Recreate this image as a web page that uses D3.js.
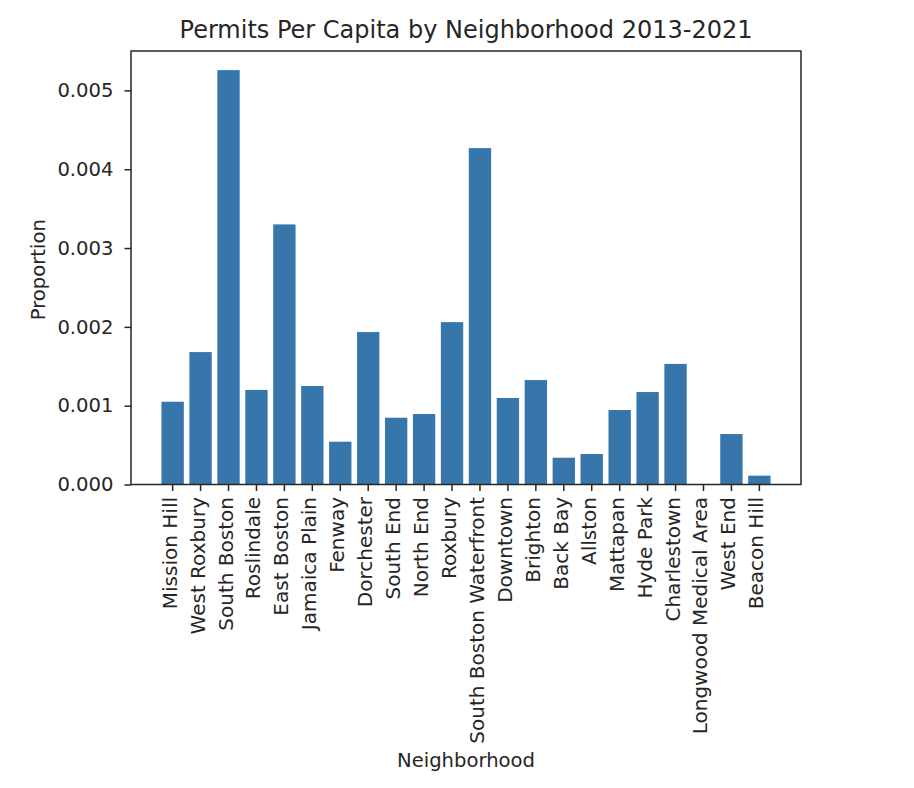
<!DOCTYPE html>
<html>
<head>
<meta charset="utf-8">
<script src="https://cdn.jsdelivr.net/npm/d3@7"></script>
<style>
  html, body { margin: 0; padding: 0; background: #fff; }
  svg { display: block; }
  text { font-family: "DejaVu Sans", sans-serif; fill: #262626; }
</style>
</head>
<body>
<svg id="chart" width="914" height="788"></svg>
<script>
const neighborhoods = ["Mission Hill", "West Roxbury", "South Boston", "Roslindale", "East Boston",
  "Jamaica Plain", "Fenway", "Dorchester", "South End", "North End", "Roxbury",
  "South Boston Waterfront", "Downtown", "Brighton", "Back Bay", "Allston", "Mattapan",
  "Hyde Park", "Charlestown", "Longwood Medical Area", "West End", "Beacon Hill"];
const proportions = [0.00105, 0.00168, 0.005257, 0.00120, 0.00330,
  0.00125, 0.000543, 0.001934, 0.000847, 0.000894, 0.00206,
  0.004268, 0.001097, 0.001325, 0.00034, 0.000387, 0.000945,
  0.001173, 0.00153, 0.0, 0.00064, 0.000112];
const yTicks = [0, 0.001, 0.002, 0.003, 0.004, 0.005];
const titleText = "Permits Per Capita by Neighborhood 2013-2021";
const xLabel = "Neighborhood";
const yLabel = "Proportion";

const svg = d3.select("#chart");
const L = 131, R = 801, T = 51, B = 484.5;
const fs = 19.6;

const x = d3.scaleBand().domain(neighborhoods).range([L, R]).paddingInner(0.2).paddingOuter(1.09);
const y = d3.scaleLinear().domain([0, 0.0055]).range([B, T]);

// bars
svg.append("g").selectAll("rect").data(neighborhoods).join("rect")
  .attr("x", d => x(d))
  .attr("width", x.bandwidth())
  .attr("y", (d, i) => y(proportions[i]))
  .attr("height", (d, i) => B - y(proportions[i]))
  .attr("fill", "#3776ab");

// y axis
const yAxis = svg.append("g").attr("transform", `translate(${L},0)`)
  .call(d3.axisLeft(y).tickValues(yTicks).tickFormat(d3.format(".3f")).tickSize(6.5).tickPadding(11));
yAxis.select(".domain").remove();
yAxis.selectAll(".tick line").attr("stroke", "#262626").attr("stroke-width", 1.5);
yAxis.selectAll(".tick text").attr("font-size", fs).attr("font-family", "DejaVu Sans").attr("fill", "#262626");

// x axis
const xAxis = svg.append("g").attr("transform", `translate(0,${B})`)
  .call(d3.axisBottom(x).tickSize(6.5).tickSizeOuter(0));
xAxis.select(".domain").remove();
xAxis.selectAll(".tick line").attr("stroke", "#262626").attr("stroke-width", 1.5);
xAxis.selectAll(".tick text")
  .attr("font-size", 20).attr("font-family", "DejaVu Sans").attr("fill", "#262626")
  .attr("transform", "rotate(-90)")
  .attr("text-anchor", "end")
  .attr("x", -12.5).attr("y", 0).attr("dy", "0.2em");

// frame
svg.append("rect").attr("x", L).attr("y", T).attr("width", R - L).attr("height", B - T)
  .attr("fill", "none").attr("stroke", "#262626").attr("stroke-width", 1.5);

// title
svg.append("text").attr("x", (L + R) / 2).attr("y", 38).attr("text-anchor", "middle")
  .attr("font-size", 24).text(titleText);

// axis labels
svg.append("text").attr("x", (L + R) / 2).attr("y", 766.5).attr("text-anchor", "middle")
  .attr("font-size", fs).text(xLabel);
svg.append("text").attr("transform", `translate(45,${(T + B) / 2 + 2}) rotate(-90)`)
  .attr("text-anchor", "middle").attr("font-size", fs).text(yLabel);
</script>
</body>
</html>
